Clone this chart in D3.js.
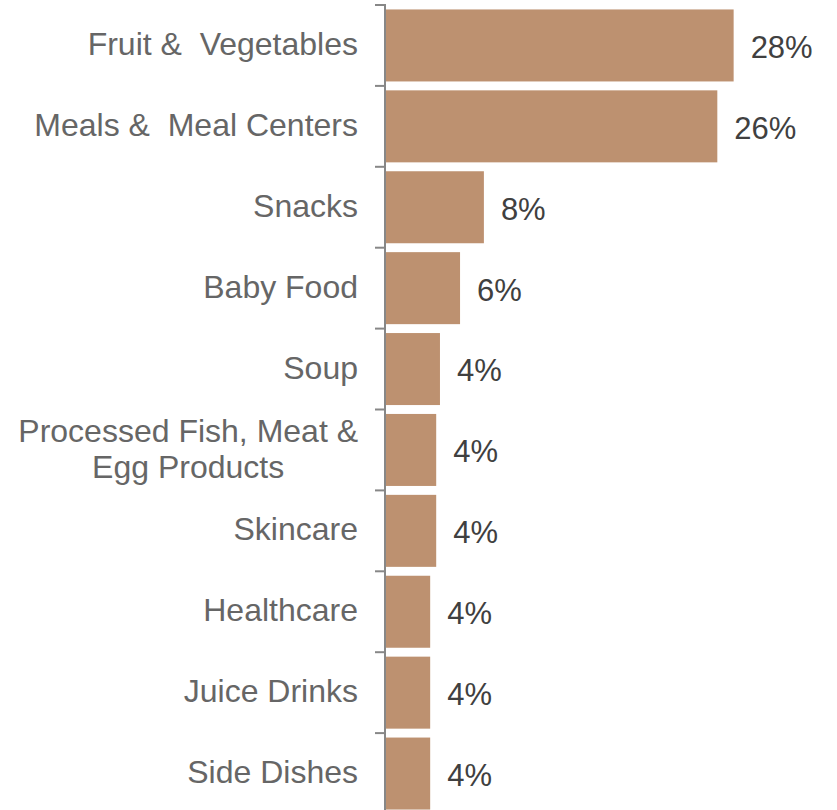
<!DOCTYPE html>
<html>
<head>
<meta charset="utf-8">
<script src="https://cdn.jsdelivr.net/npm/d3@7"></script>
<style>
  html, body { margin: 0; padding: 0; background: #ffffff; }
  svg { display: block; }
  text { font-family: "Liberation Sans", Arial, sans-serif; }
</style>
</head>
<body>
<svg id="chart" width="837" height="810"></svg>
<script>
// Category names (line breaks marked with \n)
const categories = [
  "Fruit &  Vegetables",
  "Meals &  Meal Centers",
  "Snacks",
  "Baby Food",
  "Soup",
  "Processed Fish, Meat &\nEgg Products",
  "Skincare",
  "Healthcare",
  "Juice Drinks",
  "Side Dishes"
];

// Share of items per category, in percent
const shares = [27.7, 26.4, 7.8, 5.9, 4.3, 4.0, 4.0, 3.52, 3.52, 3.52];

const xDomain = [0, 30];

const barColor = "#BD9170";
const axisColor = "#878787";
const catColor = "#666666";
const valColor = "#404040";

const data = categories.map((c, i) => ({ cat: c, value: shares[i] }));

const svg = d3.select("#chart");

const axisX = 385;

const x = d3.scaleLinear()
  .domain(xDomain)
  .range([axisX + 1, axisX + 1 + 376.5]);

const y = d3.scaleBand()
  .domain(categories)
  .range([5, 814])
  .paddingInner(0.11)
  .paddingOuter(0.055);

// Bars
svg.append("g")
  .selectAll("rect")
  .data(data)
  .join("rect")
  .attr("x", x(0))
  .attr("y", d => y(d.cat))
  .attr("width", d => x(d.value) - x(0))
  .attr("height", y.bandwidth())
  .attr("fill", barColor);

// Value labels
const fmt = d => d3.format(".0f")(d) + "%";
svg.append("g")
  .selectAll("text")
  .data(data)
  .join("text")
  .attr("x", d => x(d.value) + 17)
  .attr("y", d => y(d.cat) + y.bandwidth() / 2)
  .attr("dy", "0.4em")
  .attr("font-size", 31)
  .attr("fill", valColor)
  .text(d => fmt(d.value));

// Category axis: vertical line with ticks on band boundaries
const axisG = svg.append("g");
const step = y.step();
const boundaries = categories.map(c => y(c) - y.paddingInner() * step / 2);
axisG.append("line")
  .attr("x1", axisX).attr("x2", axisX)
  .attr("y1", boundaries[0] - 1).attr("y2", 814)
  .attr("stroke", axisColor).attr("stroke-width", 2);
axisG.selectAll("line.tick")
  .data(boundaries)
  .join("line")
  .attr("class", "tick")
  .attr("x1", axisX - 10).attr("x2", axisX)
  .attr("y1", d => d).attr("y2", d => d)
  .attr("stroke", axisColor).attr("stroke-width", 2);

// Category labels, right-aligned; wrapped labels are centred as a block
const labelRight = 358;
const fontSize = 32;
const lineH = 36;
const labels = svg.append("g");
data.forEach(d => {
  const lines = d.cat.split("\n");
  const cy = y(d.cat) + y.bandwidth() / 2;
  const t = labels.append("text")
    .attr("font-size", fontSize)
    .attr("fill", catColor)
    .style("white-space", "pre");
  const spans = lines.map((ln, i) => t.append("tspan")
    .attr("y", cy + (i - (lines.length - 1) / 2) * lineH)
    .attr("dy", "0.3em")
    .text(ln));
  if (lines.length === 1) {
    t.attr("text-anchor", "end");
    spans[0].attr("x", labelRight);
  } else {
    const widths = spans.map(s => s.node().getComputedTextLength());
    const maxW = d3.max(widths);
    t.attr("text-anchor", "middle");
    spans.forEach(s => s.attr("x", labelRight - maxW / 2));
  }
});
</script>
</body>
</html>
